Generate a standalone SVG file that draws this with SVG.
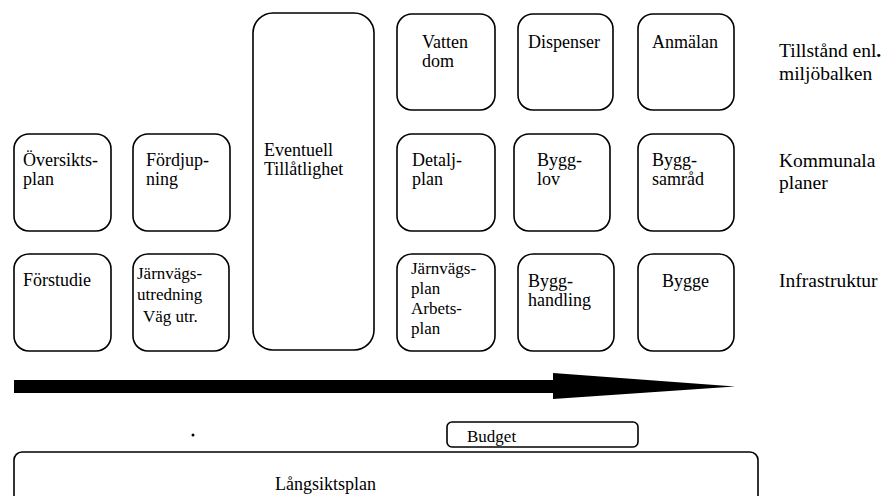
<svg xmlns="http://www.w3.org/2000/svg" width="892" height="496" viewBox="0 0 892 496">
<rect width="892" height="496" fill="#fff"/>
<g id="connectors">
<polygon points="14,380 553,380 553,373 735,386.5 553,399 553,393 14,393" fill="#000"/>
</g>
<g id="nodes" font-family="Liberation Serif" font-size="18" fill="#000">
<g fill="#fff" stroke="#000" stroke-width="1.6">
<rect x="14" y="134" width="97" height="97" rx="15"/>
<rect x="133" y="134" width="97" height="97" rx="15"/>
<rect x="253" y="13" width="121" height="337" rx="20"/>
<rect x="397" y="14" width="98" height="96" rx="15"/>
<rect x="518" y="14" width="95" height="96" rx="15"/>
<rect x="638" y="14" width="96" height="96" rx="15"/>
<rect x="397" y="134" width="98" height="97" rx="15"/>
<rect x="514" y="134" width="96" height="97" rx="15"/>
<rect x="638" y="134" width="96" height="97" rx="15"/>
<rect x="14" y="254" width="97" height="97" rx="15"/>
<rect x="133" y="254" width="96" height="97" rx="15"/>
<rect x="397" y="254" width="98" height="97" rx="15"/>
<rect x="518" y="254" width="96" height="97" rx="15"/>
<rect x="638" y="254" width="96" height="97" rx="15"/>
<rect x="447" y="422" width="191" height="25" rx="5"/>
<rect x="14" y="452" width="744" height="60" rx="8"/>
</g>
<g id="n-oversiktsplan"><text x="23" y="166">Översikts-</text><text x="23" y="185">plan</text></g>
<g id="n-fordjupning"><text x="146" y="166">Fördjup-</text><text x="146" y="185">ning</text></g>
<g id="n-eventuell"><text x="264" y="156">Eventuell</text><text x="264" y="175">Tillåtlighet</text></g>
<g id="n-vattendom"><text x="422" y="48">Vatten</text><text x="422" y="67">dom</text></g>
<g id="n-dispenser"><text x="528" y="48">Dispenser</text></g>
<g id="n-anmalan"><text x="652" y="48">Anmälan</text></g>
<g id="n-detaljplan"><text x="412" y="166">Detalj-</text><text x="412" y="185">plan</text></g>
<g id="n-bygglov"><text x="537" y="166">Bygg-</text><text x="537" y="185">lov</text></g>
<g id="n-byggsamrad"><text x="652" y="166">Bygg-</text><text x="652" y="185">samråd</text></g>
<g id="n-forstudie"><text x="23" y="286">Förstudie</text></g>
<g id="n-jarnvagsutredning" font-size="17"><text x="137" y="279">Järnvägs-</text><text x="137" y="300">utredning</text><text x="143" y="322">Väg utr.</text></g>
<g id="n-jarnvagsplan" font-size="17"><text x="411" y="274">Järnvägs-</text><text x="411" y="294">plan</text><text x="411" y="314">Arbets-</text><text x="411" y="334">plan</text></g>
<g id="n-bygghandling"><text x="528" y="287">Bygg-</text><text x="528" y="306">handling</text></g>
<g id="n-bygge"><text x="662" y="287">Bygge</text></g>
<g id="labels" font-size="19.5">
<text x="779" y="57">Tillstånd enl<tspan font-weight="bold">.</tspan></text>
<text x="779" y="80">miljöbalken</text>
<text x="779" y="167">Kommunala</text>
<text x="779" y="189">planer</text>
<text x="779" y="287">Infrastruktur</text>
</g>
<circle cx="193" cy="435" r="1.5"/>
<g id="n-budget" font-size="17"><text x="467" y="442">Budget</text></g>
<g id="n-langsiktsplan"><text x="275" y="490">Långsiktsplan</text></g>
</g>
</svg>
